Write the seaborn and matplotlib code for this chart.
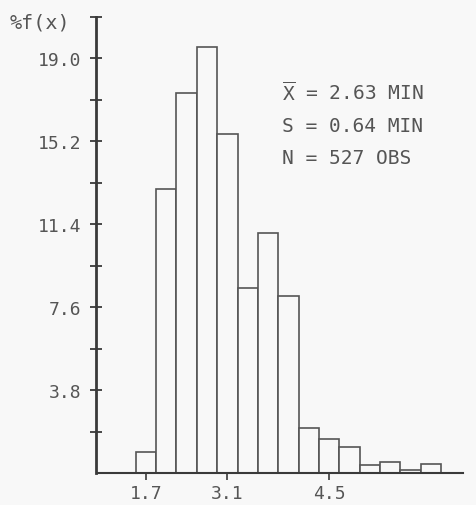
import matplotlib
matplotlib.use("Agg")
import matplotlib.pyplot as plt
import seaborn as sns
import pandas as pd

# ---- data ----
pct_freq = [0.95, 13.0, 17.4, 19.5, 15.5, 8.45, 11.0, 8.1, 2.05, 1.55, 1.2, 0.35, 0.5, 0.15, 0.4]
bin_index = list(range(len(pct_freq)))
x_tick_bins = [0, 4, 9]
x_tick_labels = ['1.7', '3.1', '4.5']
y_tick_values = [3.8, 7.6, 11.4, 15.2, 19.0]
y_tick_labels = ['3.8', '7.6', '11.4', '15.2', '19.0']
y_minor_values = [1.9, 5.7, 9.5, 13.3, 17.1, 20.9]
stats_lines = [r'$\overline{\mathrm{X}}$ = 2.63 MIN', 'S = 0.64 MIN', 'N = 527 OBS']
y_label = '%f(x)'

sns.set_theme(style='white')
plt.rcParams['font.family'] = ['DejaVu Sans Mono', 'DejaVu Sans']
plt.rcParams['mathtext.fontset'] = 'custom'
plt.rcParams['mathtext.rm'] = 'DejaVu Sans Mono'
plt.rcParams['mathtext.it'] = 'DejaVu Sans Mono'

bg = '#f8f8f8'
txt = '#555555'

W, H = 477, 506
fig = plt.figure(figsize=(W / 100, H / 100), dpi=100, facecolor=bg)
ax = fig.add_axes([96.5 / W, (H - 474) / H, (463 - 96.5) / W, (474 - 17.5) / H])
ax.set_facecolor(bg)

df = pd.DataFrame({'bin': bin_index, 'pct': pct_freq})
sns.histplot(data=df, x='bin', weights='pct', discrete=True, fill=True,
             color=bg, edgecolor='#555555', linewidth=1.2, alpha=1, ax=ax)

ax.set_xlim(-2.43, 15.58)
ax.set_ylim(0, 20.9)
ax.set_xlabel('')
ax.set_ylabel('')

for s in ['top', 'right']:
    ax.spines[s].set_visible(False)
ax.spines['left'].set_color('#3a3a3a')
ax.spines['left'].set_linewidth(2.0)
ax.spines['bottom'].set_color('#3a3a3a')
ax.spines['bottom'].set_linewidth(1.5)

ax.set_yticks(y_tick_values, labels=y_tick_labels)
ax.set_yticks(y_minor_values, minor=True)
ax.tick_params(axis='y', which='both', direction='inout', length=8, width=1.3,
               color='#3a3a3a', labelsize=13, labelcolor=txt, pad=7, left=True)
ax.set_xticks(x_tick_bins, labels=x_tick_labels)
ax.tick_params(axis='x', which='both', direction='out', length=5, width=1.2,
               color='#3a3a3a', labelsize=13, labelcolor=txt, pad=3, bottom=True)

fig.text(10 / W, 1 - 23 / H, y_label, ha='left', va='center', fontsize=14.5, color=txt)

for line, yp in zip(stats_lines, [93, 127, 159]):
    fig.text(282 / W, 1 - yp / H, line, ha='left', va='center', fontsize=14, color=txt)

fig.savefig('out.png', dpi=100, facecolor=bg)
